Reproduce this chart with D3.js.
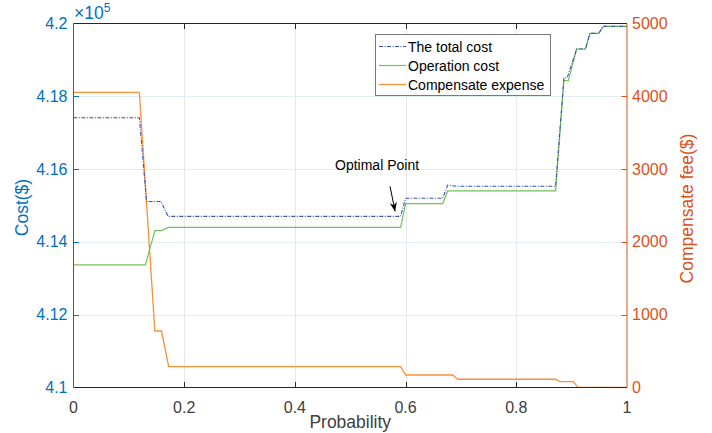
<!DOCTYPE html>
<html><head><meta charset="utf-8">
<script src="https://cdn.jsdelivr.net/npm/d3@7"></script>
<style>body{margin:0;background:#fff}svg{display:block;font-family:"Liberation Sans",Arial,sans-serif}</style>
</head><body><svg id="c" width="712" height="433"></svg>
<script>
const xTicks = [0, 0.2, 0.4, 0.6, 0.8, 1];
const xTickLabels = ["0", "0.2", "0.4", "0.6", "0.8", "1"];
const leftTicks = [4.1, 4.12, 4.14, 4.16, 4.18, 4.2];
const leftTickLabels = ["4.1", "4.12", "4.14", "4.16", "4.18", "4.2"];
const rightTicks = [0, 1000, 2000, 3000, 4000, 5000];

const probTotal = [0, 0.119, 0.132, 0.158, 0.171, 0.591, 0.600, 0.667, 0.676, 0.692, 0.871, 0.886, 0.892, 0.909, 0.925, 0.933, 0.949, 0.957, 1];
const totalCost = [4.1741, 4.1741, 4.1511, 4.1511, 4.1470, 4.1470, 4.1520, 4.1520, 4.1556, 4.1553, 4.1553, 4.1851, 4.1851, 4.1930, 4.1930, 4.1973, 4.1973, 4.1992, 4.1992];

const probOp = [0, 0.130, 0.147, 0.159, 0.171, 0.591, 0.600, 0.667, 0.676, 0.871, 0.886, 0.894, 0.909, 0.925, 0.933, 0.949, 0.957, 1];
const opCost = [4.1337, 4.1337, 4.1431, 4.1431, 4.1440, 4.1440, 4.1505, 4.1505, 4.1540, 4.1540, 4.1843, 4.1843, 4.1930, 4.1930, 4.1973, 4.1973, 4.1992, 4.1992];

const probComp = [0, 0.119, 0.147, 0.159, 0.172, 0.591, 0.600, 0.685, 0.694, 0.871, 0.879, 0.903, 0.911, 1];
const compFee = [4055, 4055, 776, 776, 286, 286, 172, 172, 113, 113, 80, 80, 5, 0];

const legendLabels = ["The total cost", "Operation cost", "Compensate expense"];
const optimalLabel = "Optimal Point";
const optimalProb = 0.59;
const optimalValue = 4.1470;

const L = 73.5, R = 627, T = 23.5, B = 387.5;
const svg = d3.select("#c");
const x = d3.scaleLinear().domain([0, 1]).range([L, R]);
const yL = d3.scaleLinear().domain([4.1, 4.2]).range([B, T]);
const yR = d3.scaleLinear().domain([0, 5000]).range([B, T]);

const blue = "#0072BD", orange = "#D95319", dark = "#262626";

// grid
const g = svg.append("g");
g.selectAll(".vg").data(xTicks.slice(1, -1)).enter().append("line")
  .attr("x1", d => Math.round(x(d)) + 0.5).attr("x2", d => Math.round(x(d)) + 0.5)
  .attr("y1", T).attr("y2", B).attr("stroke", "#e6e8ea").attr("stroke-width", 1);
g.selectAll(".hg").data(leftTicks.slice(1, -1)).enter().append("line")
  .attr("x1", L).attr("x2", R)
  .attr("y1", d => Math.round(yL(d)) + 0.5).attr("y2", d => Math.round(yL(d)) + 0.5)
  .attr("stroke", "#e3edf6").attr("stroke-width", 1);

// lines
svg.append("clipPath").attr("id", "pc").append("rect").attr("x", L).attr("y", T - 1).attr("width", R - L).attr("height", B - T + 2);
const lines = svg.append("g").attr("clip-path", "url(#pc)");
lines.append("path").datum(d3.zip(probComp, compFee))
  .attr("d", d3.line().x(d => x(d[0])).y(d => yR(d[1])))
  .attr("fill", "none").attr("stroke", "#F5913A").attr("stroke-width", 1.3);
lines.append("path").datum(d3.zip(probOp, opCost))
  .attr("d", d3.line().x(d => x(d[0])).y(d => yL(d[1])))
  .attr("fill", "none").attr("stroke", "#74C25A").attr("stroke-width", 1.2);
lines.append("path").datum(d3.zip(probTotal, totalCost))
  .attr("d", d3.line().x(d => x(d[0])).y(d => yL(d[1])))
  .attr("fill", "none").attr("stroke", "#3654B4").attr("stroke-width", 1.1).attr("stroke-dasharray", "4,1.5,1,1.5");

// axes
const ax = svg.append("g");
ax.append("line").attr("x1", L).attr("x2", R).attr("y1", T).attr("y2", T).attr("stroke", dark);
ax.append("line").attr("x1", L).attr("x2", R).attr("y1", B).attr("y2", B).attr("stroke", dark);
ax.append("line").attr("x1", L).attr("x2", L).attr("y1", T).attr("y2", B).attr("stroke", blue);
ax.append("line").attr("x1", R).attr("x2", R).attr("y1", T).attr("y2", B).attr("stroke", orange);

xTicks.forEach((d, i) => {
  const px = Math.round(x(d)) + 0.5;
  if (i > 0 && i < xTicks.length - 1) {
    ax.append("line").attr("x1", px).attr("x2", px).attr("y1", B).attr("y2", B - 5.5).attr("stroke", dark);
    ax.append("line").attr("x1", px).attr("x2", px).attr("y1", T).attr("y2", T + 5.5).attr("stroke", dark);
  }
  ax.append("text").attr("x", x(d)).attr("y", B + 25).attr("text-anchor", "middle")
    .attr("font-size", 16).attr("fill", "#404040").text(xTickLabels[i]);
});
leftTicks.forEach((d, i) => {
  const py = Math.round(yL(d)) + 0.5;
  if (i > 0 && i < leftTicks.length - 1)
    ax.append("line").attr("x1", L).attr("x2", L + 5.5).attr("y1", py).attr("y2", py).attr("stroke", blue);
  ax.append("text").attr("x", L - 6).attr("y", yL(d) + 5.5).attr("text-anchor", "end")
    .attr("font-size", 16).attr("fill", blue).text(leftTickLabels[i]);
});
rightTicks.forEach((d, i) => {
  const py = Math.round(yR(d)) + 0.5;
  if (i > 0 && i < rightTicks.length - 1)
    ax.append("line").attr("x1", R).attr("x2", R - 5.5).attr("y1", py).attr("y2", py).attr("stroke", orange);
  ax.append("text").attr("x", R + 5).attr("y", yR(d) + 5.5).attr("text-anchor", "start")
    .attr("font-size", 16).attr("fill", orange).text(String(d));
});

// exponent
const ex = ax.append("text").attr("x", L + 0.5).attr("y", 18.5).attr("font-size", 17.5).attr("fill", blue);
ex.append("tspan").text("\u00d710");
ex.append("tspan").attr("dy", -6.5).attr("font-size", 12).text("5");

// axis labels
ax.append("text").attr("x", (L + R) / 2).attr("y", 428).attr("text-anchor", "middle")
  .attr("font-size", 17.5).attr("fill", "#404040").text("Probability");
ax.append("text").attr("transform", `translate(28,${(T + B) / 2 + 2}) rotate(-90)`).attr("text-anchor", "middle")
  .attr("font-size", 17.5).attr("fill", blue).text("Cost($)");
ax.append("text").attr("transform", `translate(693,${(T + B) / 2 + 3}) rotate(-90)`).attr("text-anchor", "middle")
  .attr("font-size", 17.5).attr("fill", orange).text("Compensate fee($)");

// annotation
const ax0 = x(optimalProb), ay0 = yL(optimalValue);
svg.append("defs").append("marker").attr("id", "ah").attr("viewBox", "0 0 10 10")
  .attr("refX", 10).attr("refY", 5).attr("markerWidth", 9).attr("markerHeight", 9).attr("orient", "auto")
  .attr("markerUnits", "userSpaceOnUse")
  .append("path").attr("d", "M0,1 L10,5 L0,9 L3,5 Z").attr("fill", "#000");
svg.append("line").attr("x1", ax0 - 10).attr("y1", ay0 - 30).attr("x2", ax0 - 5).attr("y2", ay0 - 5)
  .attr("stroke", "#000").attr("stroke-width", 1).attr("marker-end", "url(#ah)");
svg.append("text").attr("x", ax0 - 23).attr("y", ay0 - 46).attr("text-anchor", "middle")
  .attr("font-size", 14).attr("fill", "#000").text(optimalLabel);

// legend
const lg = svg.append("g");
lg.append("rect").attr("x", 375.5).attr("y", 34.5).attr("width", 175).attr("height", 61)
  .attr("fill", "#fff").attr("stroke", "#7a7a7a").attr("stroke-width", 1);
const lstyles = [
  {c: "#3654B4", w: 1.1, da: "4,1.5,1,1.5"},
  {c: "#74C25A", w: 1.2, da: null},
  {c: "#F5913A", w: 1.3, da: null}
];
legendLabels.forEach((t, i) => {
  const cy = 46.5 + i * 19;
  lg.append("line").attr("x1", 379).attr("x2", 406).attr("y1", cy).attr("y2", cy)
    .attr("stroke", lstyles[i].c).attr("stroke-width", lstyles[i].w).attr("stroke-dasharray", lstyles[i].da);
  lg.append("text").attr("x", 408).attr("y", cy + 5).attr("font-size", 14).attr("fill", "#000").text(t);
});
</script></body></html>
